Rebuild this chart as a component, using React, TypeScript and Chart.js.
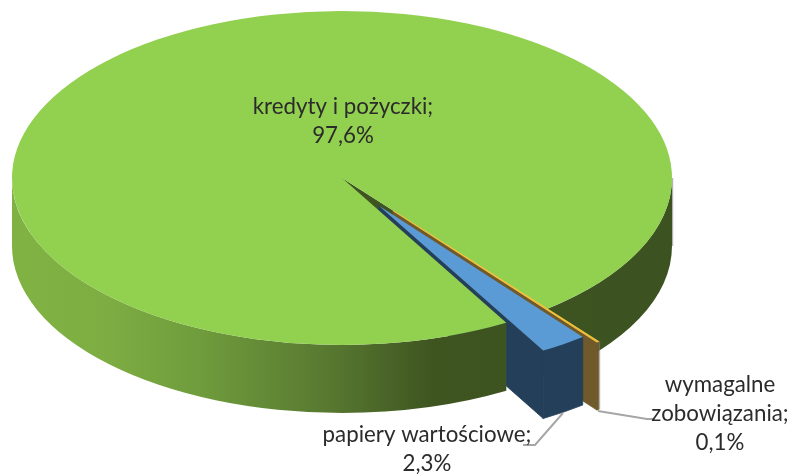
import React, { useEffect, useRef } from "react";
import { Chart, registerables } from "chart.js";

Chart.register(...registerables);

const categories = ["wymagalne zobowiązania", "papiery wartościowe", "kredyty i pożyczki"];
const values = [0.1, 2.3, 97.6];
const labelLines = [
  ["wymagalne", "zobowiązania;", "0,1%"],
  ["papiery wartościowe;", "2,3%"],
  ["kredyty i pożyczki;", "97,6%"],
];
const topColors = ["#f2c23c", "#5b9bd5", "#92d050"];
const faceColors = ["#705a2b", "#243f5a", "#3e5522"];
const explode = [0.25, 0.2, 0];
const labelAnchors = [
  [720, 385],
  [427, 435],
  [343, 107],
];
const leaders = [
  [[598, 411], [647, 419], [654, 419]],
  [[563, 413], [535, 445], [523, 445]],
];

const CX = 342;
const CY = 178;
const RX = 330;
const RY = 167;
const DEPTH = 68;
const FONT = '22.3px Lato, "Open Sans", sans-serif';

const pie3d = {
  id: "pie3d",
  beforeDatasetDraw(chart: any) {
    const ctx: CanvasRenderingContext2D = chart.ctx;
    const arcs = chart.getDatasetMeta(0).data;
    const off = arcs.map((a: any, i: number) => {
      const mid = (a.startAngle + a.endAngle) / 2;
      return [Math.cos(mid) * RX * explode[i], Math.sin(mid) * RY * explode[i]];
    });
    const pt = (ang: number, i: number) => [
      CX + off[i][0] + Math.cos(ang) * RX,
      CY + off[i][1] + Math.sin(ang) * RY,
    ];
    const paint = (fill: any, seal: boolean) => {
      ctx.fillStyle = fill;
      ctx.fill();
      if (seal) {
        ctx.strokeStyle = fill;
        ctx.lineWidth = 0.8;
        ctx.stroke();
      }
    };
    const wall = (i: number, a0: number, a1: number, fill: any, seal = false) => {
      const ox = CX + off[i][0];
      const oy = CY + off[i][1];
      ctx.beginPath();
      ctx.ellipse(ox, oy, RX, RY, 0, a0, a1);
      ctx.ellipse(ox, oy + DEPTH, RX, RY, 0, a1, a0, true);
      ctx.closePath();
      paint(fill, seal);
    };
    const face = (i: number, ang: number, fill: any, seal = false) => {
      const ox = CX + off[i][0];
      const oy = CY + off[i][1];
      const p = pt(ang, i);
      ctx.beginPath();
      ctx.moveTo(ox, oy);
      ctx.lineTo(p[0], p[1]);
      ctx.lineTo(p[0], p[1] + DEPTH);
      ctx.lineTo(ox, oy + DEPTH);
      ctx.closePath();
      paint(fill, seal);
    };
    const top = (i: number) => {
      const a = arcs[i];
      const s = a.outerRadius;
      ctx.save();
      ctx.translate(CX + off[i][0], CY + off[i][1]);
      ctx.scale(RX / s, RY / s);
      ctx.translate(-a.x, -a.y);
      a.draw(ctx);
      ctx.restore();
    };

    const g = ctx.createLinearGradient(CX - RX, 0, CX + RX, 0);
    g.addColorStop(0, "#80b243");
    g.addColorStop(0.133, "#7eae43");
    g.addColorStop(0.285, "#6f9c3c");
    g.addColorStop(0.486, "#577730");
    g.addColorStop(0.638, "#3e5520");
    g.addColorStop(1, "#3c5221");

    const green = arcs[2];
    const gEnd = green.endAngle - 2 * Math.PI;
    // faint grey edge along the right of the wall and the small slice
    const rimEdge = (x: number, y0: number, y1: number) => {
      ctx.save();
      ctx.strokeStyle = "rgba(130,130,130,0.6)";
      ctx.lineWidth = 1.2;
      ctx.beginPath();
      ctx.moveTo(x, y0);
      ctx.lineTo(x, y1);
      ctx.stroke();
      ctx.restore();
    };
    rimEdge(CX + RX + 0.6, CY, CY + DEPTH);
    // green cut face and the right wall, then the pulled-out slices
    face(2, gEnd, faceColors[2]);
    wall(2, 0, gEnd, g);
    face(0, arcs[0].endAngle, faceColors[0], true);
    wall(0, arcs[0].startAngle, arcs[0].endAngle, faceColors[0], true);
    const gp = pt(arcs[0].startAngle, 0);
    rimEdge(gp[0] + 1, gp[1], gp[1] + DEPTH);
    face(1, arcs[1].endAngle, faceColors[1], true);
    wall(1, arcs[1].startAngle, arcs[1].endAngle, faceColors[1], true);
    // green front wall and top sit over the hidden part of the slices
    wall(2, green.startAngle, Math.PI, g);
    top(2);
    top(1);
    top(0);
    return false;
  },
  afterDraw(chart: any) {
    const ctx: CanvasRenderingContext2D = chart.ctx;
    ctx.save();
    ctx.strokeStyle = "#a6a6a6";
    ctx.lineWidth = 2;
    leaders.forEach((l) => {
      ctx.beginPath();
      l.forEach((p, i) => (i ? ctx.lineTo(p[0], p[1]) : ctx.moveTo(p[0], p[1])));
      ctx.stroke();
    });
    ctx.font = FONT;
    ctx.textAlign = "center";
    ctx.textBaseline = "middle";
    ctx.fillStyle = "#2b2b2b";
    labelLines.forEach((lines, i) => {
      lines.forEach((t, j) => {
        ctx.fillText(t, labelAnchors[i][0], labelAnchors[i][1] + j * 28.7);
      });
    });
    ctx.restore();
  },
};

export default function App() {
  const ref = useRef<HTMLCanvasElement>(null);
  useEffect(() => {
    const chart = new Chart(ref.current!, {
      type: "pie",
      data: {
        labels: categories,
        datasets: [
          {
            data: values,
            backgroundColor: topColors,
            borderColor: topColors,
            borderWidth: [1, 0, 0],
            hoverOffset: 0,
          },
        ],
      },
      options: {
        responsive: false,
        animation: false,
        rotation: 141.5,
        plugins: { legend: { display: false }, tooltip: { enabled: false } },
      },
      plugins: [pie3d],
    } as any);
    return () => chart.destroy();
  }, []);
  return (
    <div style={{ position: "absolute", left: 0, top: 0, width: 792, height: 474 }}>
      <canvas ref={ref} width={792} height={474} style={{ display: "block" }} />
    </div>
  );
}
